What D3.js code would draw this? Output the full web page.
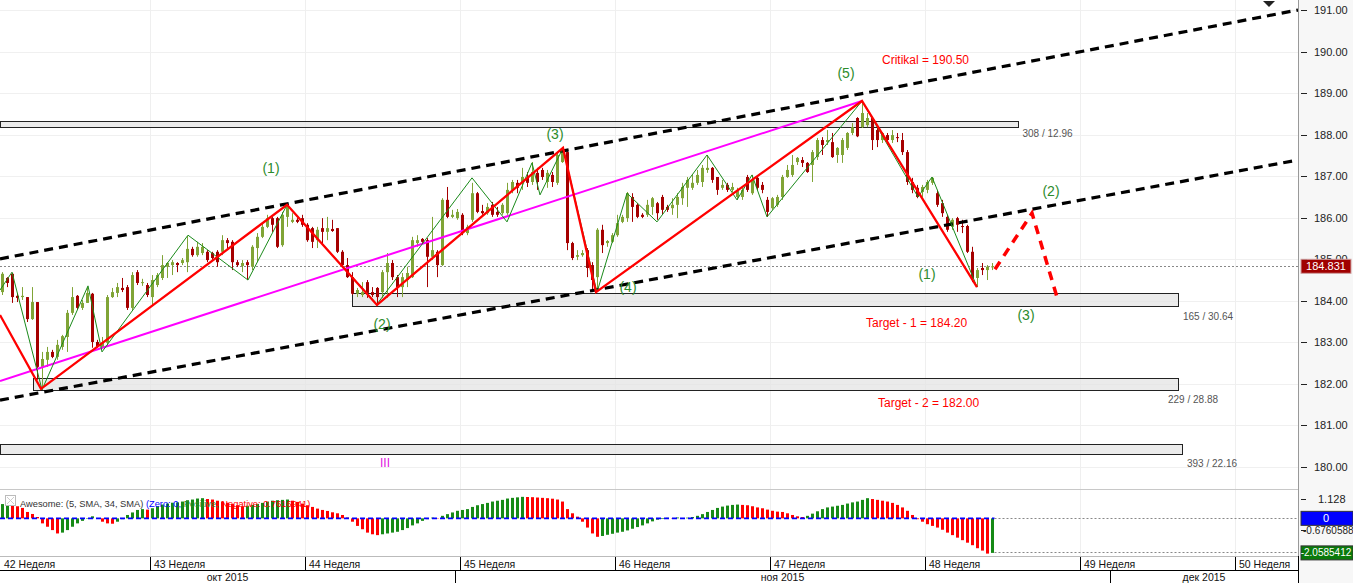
<!DOCTYPE html>
<html><head><meta charset="utf-8">
<script src="https://cdn.jsdelivr.net/npm/d3@7"></script>
<style>
body{margin:0;background:#fff;}
svg{display:block;font-family:"Liberation Sans",Arial,sans-serif;}
</style></head>
<body><svg id="c" width="1353" height="583"></svg>
<script>
// ---------- DATA ----------
// 4h candles [open, high, low, close]
const candles = [
[184.21,184.69,184.14,184.65],[184.55,184.57,184.33,184.43],[184.65,184.67,183.95,184.09],[184.12,184.19,183.97,184.07],
[184.09,184.33,184.02,184.12],[184.09,184.09,183.49,183.56],[183.56,184.33,183.54,183.97],[183.97,183.97,182.10,182.41],
[182.41,182.77,181.86,182.60],[182.58,182.89,182.41,182.77],[182.77,182.82,182.62,182.65],[182.65,183.06,182.58,182.94],
[182.89,183.18,182.82,183.15],[183.13,183.78,182.77,183.71],[183.71,184.33,183.66,184.09],[184.12,184.14,183.78,183.83],
[183.83,184.02,183.78,183.95],[183.95,184.33,183.95,184.19],[184.17,184.19,182.87,183.01],[183.01,183.06,182.87,182.89],
[182.89,183.13,182.87,182.99],[182.99,184.14,182.89,184.09],[184.09,184.31,184.07,184.21],[184.19,184.43,184.09,184.33],
[184.31,184.55,184.21,184.26],[184.33,184.38,183.78,183.83],[183.83,184.69,183.78,184.62],[184.69,184.74,184.38,184.43],
[184.43,184.53,184.36,184.45],[184.38,184.43,184.09,184.14],[184.09,184.62,183.90,184.50],[184.38,184.67,184.33,184.62],
[184.55,185.10,184.50,184.86],[184.82,184.93,184.55,184.91],[184.86,184.98,184.62,184.93],[184.91,184.93,184.69,184.86],
[184.91,185.03,184.86,184.98],[184.93,185.56,184.69,185.25],[185.25,185.30,185.06,185.10],[185.10,185.42,185.06,185.30],
[185.15,185.39,185.10,185.30],[185.18,185.22,184.93,184.98],[185.15,185.18,184.98,185.03],[185.18,185.22,184.82,184.93],
[185.18,185.58,185.10,185.46],[185.46,185.51,185.27,185.39],[185.42,185.46,184.74,184.93],[184.93,184.98,184.82,184.86],
[184.84,184.98,184.69,184.91],[184.93,184.98,184.50,184.86],[184.82,185.34,184.74,185.30],[185.27,185.63,184.93,185.54],
[185.54,185.87,185.51,185.78],[185.78,186.07,185.75,185.99],[185.99,186.02,185.66,185.83],[185.99,186.02,185.27,185.30],
[185.34,186.14,185.30,186.07],[186.02,186.31,185.78,186.26],[185.90,186.11,185.87,185.95],[185.95,185.99,185.87,185.90],
[185.99,186.07,185.78,185.83],[185.83,185.87,185.42,185.46],[185.75,185.78,185.27,185.42],[185.46,185.78,185.27,185.71],
[185.75,185.99,185.39,185.66],[185.66,186.02,185.46,185.75],[185.73,185.95,185.66,185.68],[185.75,185.75,185.15,185.18],
[185.18,185.22,184.82,184.86],[184.86,185.03,184.55,184.57],[184.57,184.69,184.14,184.17],[184.17,184.31,184.09,184.26],
[184.14,184.45,184.09,184.21],[184.45,184.50,184.07,184.19],[184.21,184.33,184.09,184.14],[184.31,184.33,183.90,184.09],
[184.21,184.74,184.07,184.69],[184.69,185.15,184.07,184.91],[184.91,184.98,184.50,184.57],[184.57,184.62,184.09,184.33],
[184.33,184.67,184.09,184.57],[184.50,184.82,184.33,184.67],[184.57,185.54,184.55,185.46],[185.39,185.58,185.30,185.46],
[185.49,185.51,185.39,185.42],[185.46,185.51,184.33,185.06],[185.06,186.02,184.98,185.22],[185.18,185.22,184.57,184.86],
[184.86,186.47,184.84,186.43],[186.43,186.74,185.99,186.02],[186.02,186.19,185.99,186.07],[185.99,186.21,185.95,186.14],
[186.07,186.11,185.58,185.63],[185.63,185.83,185.58,185.78],[185.95,186.84,185.90,186.59],[186.59,186.62,186.11,186.14],
[186.16,186.31,186.07,186.11],[186.11,186.35,186.07,186.26],[186.31,186.38,186.02,186.07],[186.14,186.26,186.02,186.07],
[186.11,186.35,186.07,186.31],[186.11,186.84,186.07,186.67],[186.67,186.91,186.59,186.86],[186.84,186.91,186.59,186.72],
[186.84,187.20,186.67,186.98],[186.96,187.10,186.74,186.84],[186.86,187.34,186.79,187.10],[187.08,187.20,186.67,186.86],
[187.15,187.20,186.91,186.98],[186.86,187.15,186.72,187.08],[187.03,187.10,186.74,186.86],[186.84,187.56,186.79,187.51],
[187.34,187.70,187.32,187.58],[187.58,187.63,185.22,185.39],[185.39,185.42,184.98,185.03],[185.06,185.22,184.98,185.10],
[185.10,185.22,185.06,185.15],[185.22,185.27,184.57,184.79],[184.86,184.93,184.21,184.50],[184.57,185.75,184.26,185.71],
[185.71,185.83,185.15,185.34],[185.39,185.46,185.30,185.44],[185.42,185.63,185.39,185.58],[185.58,186.07,185.54,185.87],
[185.90,186.07,185.87,186.02],[185.99,186.62,185.90,186.59],[186.50,186.59,185.90,186.26],[186.31,186.35,185.99,186.02],
[186.07,186.11,185.99,186.02],[186.07,186.43,186.02,186.31],[186.26,186.50,186.07,186.47],[186.35,186.38,185.95,186.11],
[186.50,186.55,186.07,186.19],[186.26,186.31,186.14,186.19],[186.23,186.47,186.07,186.31],[186.31,186.59,185.99,186.50],
[186.47,186.84,186.31,186.74],[186.72,186.98,186.26,186.91],[186.72,187.03,186.67,186.84],[186.84,187.15,186.79,187.03],
[186.86,187.27,186.74,187.20],[187.15,187.51,187.08,187.20],[187.20,187.22,186.84,186.91],[186.98,186.98,186.55,186.67],
[186.72,186.91,186.67,186.79],[186.79,186.84,186.62,186.67],[186.67,186.84,186.62,186.74],[186.50,186.72,186.43,186.67],
[186.50,186.72,186.43,186.67],[186.98,187.03,186.62,186.67],[186.59,187.03,186.55,186.91],[186.96,186.98,186.67,186.72],
[186.79,186.86,186.59,186.67],[186.43,186.50,186.02,186.14],[186.23,186.50,186.19,186.47],[186.31,186.55,186.26,186.50],
[186.50,187.03,186.43,186.98],[186.98,187.27,186.96,187.15],[187.03,187.51,186.98,187.27],[187.34,187.46,187.27,187.44],
[187.39,187.46,187.22,187.32],[187.32,187.34,187.08,187.10],[187.27,187.63,186.86,187.58],[187.46,187.92,187.39,187.87],
[187.87,187.94,187.51,187.75],[187.82,188.11,187.75,187.87],[187.82,188.04,187.44,187.46],[187.51,187.70,187.32,187.68],
[187.51,187.92,187.32,187.87],[187.68,188.06,187.63,188.04],[188.04,188.28,187.99,188.18],[188.40,188.42,187.94,187.96],
[188.18,188.81,188.16,188.52],[188.23,188.52,188.18,188.40],[188.40,188.40,187.63,187.87],[188.11,188.16,187.70,187.87],
[187.87,188.06,187.80,188.04],[187.99,188.04,187.75,187.87],[187.87,188.11,187.80,187.99],[187.94,188.04,187.82,187.92],
[187.87,188.04,187.51,187.58],[187.58,187.63,186.79,186.86],[186.86,186.96,186.59,186.67],[186.72,186.79,186.47,186.50],
[186.62,186.79,186.50,186.74],[186.67,186.91,186.59,186.86],[186.84,186.98,186.79,186.96],[186.59,186.67,186.26,186.31],
[186.35,186.43,186.02,186.11],[186.02,186.07,185.66,185.71],[185.78,185.99,185.71,185.95],[185.99,186.02,185.66,185.83],
[185.80,185.95,185.63,185.78],[185.80,185.83,185.15,185.18],[185.18,185.30,184.45,184.55],[184.55,184.79,184.33,184.74],
[184.79,184.91,184.62,184.74],[184.74,184.86,184.50,184.82],[184.82,184.91,184.74,184.83]
];
// Awesome Oscillator values per candle
const aoValues = [
0.85,0.92,0.75,0.72,0.62,0.38,0.26,0.08,-0.30,-0.50,
-0.70,-0.90,-0.85,-0.70,-0.50,-0.30,-0.15,-0.03,0.12,0.02,
-0.20,-0.30,-0.32,-0.20,-0.05,0.20,0.35,0.50,0.55,0.52,
0.60,0.72,0.82,0.88,0.93,0.95,1.00,1.08,1.12,1.18,
1.20,1.15,1.12,1.05,1.00,0.93,0.85,0.78,0.72,0.75,
0.80,0.86,0.92,1.00,1.05,1.08,1.10,1.12,1.05,0.98,
0.88,0.78,0.68,0.58,0.50,0.44,0.36,0.30,0.20,0.05,
-0.20,-0.45,-0.65,-0.85,-0.95,-1.00,-0.95,-0.90,-0.85,-0.80,
-0.70,-0.58,-0.42,-0.30,-0.15,-0.05,0.04,0.02,0.15,0.25,
0.35,0.45,0.50,0.55,0.68,0.78,0.85,0.92,1.00,1.05,
1.10,1.18,1.22,1.25,1.28,1.27,1.26,1.24,1.22,1.20,
1.17,1.12,1.00,0.55,0.30,0.10,-0.20,-0.55,-0.90,-1.10,
-1.05,-0.98,-0.92,-0.85,-0.80,-0.72,-0.62,-0.52,-0.42,-0.30,
-0.18,-0.08,-0.04,0.03,0.02,0.05,0.02,0.04,0.08,0.15,
0.25,0.38,0.50,0.62,0.70,0.76,0.80,0.82,0.80,0.78,
0.72,0.65,0.60,0.52,0.45,0.40,0.38,0.30,0.20,0.12,
0.08,0.15,0.28,0.42,0.55,0.65,0.70,0.75,0.80,0.88,
0.95,1.00,1.10,1.20,1.15,1.10,1.05,1.00,0.92,0.80,
0.65,0.45,0.20,-0.05,-0.20,-0.35,-0.45,-0.55,-0.68,-0.85,
-1.00,-1.15,-1.30,-1.45,-1.60,-1.78,-1.92,-2.10,-2.0585412
];
const priceTicks = [191,190,189,188,187,186,185,184,183,182,181,180];
const lastPrice = 184.831;
const aoTickLabels = [["1.128",1.128],["-0.6760588",-0.6760588]];
const aoZero = 0, aoLast = -2.0585412;
const weekLabels = ["42 Неделя","43 Неделя","44 Неделя","45 Неделя","46 Неделя","47 Неделя","48 Неделя","49 Неделя","50 Неделя"];
const weekStarts = [-1,30,61,92,123,154,185,216,247];
const monthLabels = ["окт 2015","ноя 2015","дек 2015"];
const monthStarts = [-1,91,222];
// drawn objects, [bar index, price]
const channelUpper = [[-0.5,185.01],[259.1,191.00]];
const channelLower = [[-0.5,181.61],[259.1,187.39]];
const magentaLine = [[-0.5,182.07],[171.9,188.81]];
const redWaves = [[-0.5,183.66],[7.7,181.88],[56.9,186.31],[74.9,183.90],[112.1,187.68],[118.7,184.21],[171.9,188.81],[194.9,184.33]];
const greenWaves = [[-0.5,184.26],[1.9,184.69],[7.9,181.86],[17.1,184.36],[19.9,182.77],[37.1,185.58],[49.1,184.50],[56.9,186.31],
  [74.9,183.92],[93.9,186.96],[100.9,185.90],[105.9,187.32],[107.5,186.55],[112.1,187.68],[118.9,184.21],[124.9,186.59],
  [130.9,185.90],[140.9,187.51],[146.9,186.43],[149.9,187.03],[152.9,186.02],[171.9,188.81],[183.1,186.50],[185.9,186.98],[194.9,184.33]];
const forecast = [[198.5,184.76],[205.9,186.11],[210.9,184.09]];
// zones: [startIndex, endIndex, top, bottom, label, labelIndex, labelPrice]
const zones = [
  [-0.5,203.1,188.33,188.18,"308 / 12.96",204.0,188.03],
  [69.9,235.1,184.19,183.88,"165 / 30.64",236.1,183.63],
  [6.1,235.1,182.14,181.85,"229 / 28.88",233.1,181.63],
  [-0.5,235.9,180.56,180.31,"393 / 22.16",236.9,180.09]
];
const waveLabels = [["(1)",53.7,187.20],["(2)",75.9,183.44],["(3)",110.5,188.01],["(4)",125.1,184.33],["(5)",168.7,189.48],
  ["(1)",184.9,184.65],["(2)",209.7,186.64],["(3)",204.7,183.66]];
const redNotes = [["Critikal = 190.50",175.9,189.80],["Target - 1 = 184.20",172.7,183.47],["Target - 2 = 182.00",175.1,181.54]];
const magentaNote = ["III",76.5,180.10];

// ---------- CHART ----------
const W = 1353, H = 583, plotR = 1298;
const svg = d3.select("#c");
const xS = d3.scaleLinear().domain([0,259]).range([2.5,1297.5]);
const yS = d3.scaleLinear().domain([180,191]).range([467,10]);
const aS = d3.scaleLinear().domain([aoLast,1.128]).range([552.9,499.4]);

svg.append("rect").attr("width",W).attr("height",H).attr("fill","#fff");
svg.append("rect").attr("x",plotR+1).attr("y",0).attr("width",W-plotR-1).attr("height",H).attr("fill","#f7f7f7");
svg.append("line").attr("x1",plotR+0.5).attr("x2",plotR+0.5).attr("y1",0).attr("y2",H).attr("stroke","#999");

const defs = svg.append("defs");
defs.append("clipPath").attr("id","pc").append("rect").attr("x",0).attr("y",0).attr("width",plotR).attr("height",489);
defs.append("clipPath").attr("id","ac").append("rect").attr("x",0).attr("y",490).attr("width",plotR).attr("height",66);

// grid
const grid = svg.append("g");
grid.selectAll("line.h").data(priceTicks).join("line")
  .attr("x1",0).attr("x2",plotR).attr("y1",d=>Math.round(yS(d))+0.5).attr("y2",d=>Math.round(yS(d))+0.5)
  .attr("stroke","#f0f0f0");
grid.selectAll("line.v").data(weekStarts.slice(1)).join("line")
  .attr("x1",d=>xS(d)-2.5+0.5).attr("x2",d=>xS(d)-2.5+0.5).attr("y1",0).attr("y2",556)
  .attr("stroke","#efefef");

svg.append("line").attr("x1",0).attr("x2",plotR).attr("y1",489.5).attr("y2",489.5).attr("stroke","#c8c8c8");

const pg = svg.append("g").attr("clip-path","url(#pc)");

pg.selectAll("rect.zone").data(zones).join("rect")
  .attr("x",d=>xS(d[0])+0.5).attr("width",d=>xS(d[1])-xS(d[0]))
  .attr("y",d=>Math.round(yS(d[2]))+0.5).attr("height",d=>Math.round(yS(d[3]))-Math.round(yS(d[2])))
  .attr("fill","#e4e4e4").attr("fill-opacity",0.75).attr("stroke","#222").attr("stroke-width",1);

pg.append("line").attr("x1",0).attr("x2",plotR).attr("y1",Math.round(yS(lastPrice))+0.5).attr("y2",Math.round(yS(lastPrice))+0.5)
  .attr("stroke","#888").attr("stroke-dasharray","2,2");

const line = d3.line().x(d=>xS(d[0])).y(d=>yS(d[1]));

const cg = pg.append("g");
candles.forEach((c,i)=>{
  const [o,h,l,cl] = c;
  const col = cl>=o ? "#80a436" : "#a50000";
  const x = xS(i);
  cg.append("line").attr("x1",x).attr("x2",x).attr("y1",yS(h)).attr("y2",yS(l)).attr("stroke",col).attr("stroke-width",1);
  const top = yS(Math.max(o,cl)), bot = yS(Math.min(o,cl));
  cg.append("rect").attr("x",x-1.5).attr("width",3).attr("y",top).attr("height",Math.max(1,bot-top)).attr("fill",col);
});

pg.append("path").attr("d",line(magentaLine)).attr("stroke","#ff00ff").attr("stroke-width",2).attr("fill","none");
[channelUpper,channelLower].forEach(L=>{
  pg.append("path").attr("d",line(L)).attr("stroke","#000").attr("stroke-width",3.2).attr("stroke-dasharray","9,6").attr("fill","none");
});
pg.append("path").attr("d",line(greenWaves)).attr("stroke","#1a8a1a").attr("stroke-width",1).attr("fill","none");
pg.append("path").attr("d",line(redWaves)).attr("stroke","#ff0000").attr("stroke-width",2.3).attr("fill","none");
pg.append("path").attr("d",line(forecast)).attr("stroke","#ff0000").attr("stroke-width",3.5).attr("stroke-dasharray","9,7").attr("fill","none");

pg.selectAll("text.zl").data(zones).join("text")
  .attr("x",d=>xS(d[5])).attr("y",d=>yS(d[6])).attr("dy","0.35em")
  .attr("font-size",10).attr("fill","#555").text(d=>d[4]);
pg.selectAll("text.wl").data(waveLabels).join("text")
  .attr("x",d=>xS(d[1])).attr("y",d=>yS(d[2])).attr("dy","0.35em").attr("text-anchor","middle")
  .attr("font-size",14).attr("fill","#2c8c2c").text(d=>d[0]);
pg.selectAll("text.rn").data(redNotes).join("text")
  .attr("x",d=>xS(d[1])).attr("y",d=>yS(d[2])).attr("dy","0.35em")
  .attr("font-size",12).attr("fill","#ff0000").text(d=>d[0]);
pg.append("text").attr("x",xS(magentaNote[1])).attr("y",yS(magentaNote[2])).attr("dy","0.35em").attr("text-anchor","middle")
  .attr("font-size",12).attr("fill","#e020e0").text(magentaNote[0]);

svg.append("path").attr("d","M1263,1 L1275,1 L1269,7 Z").attr("fill","#222");

// right price axis
const ax = svg.append("g");
priceTicks.forEach(p=>{
  const y = Math.round(yS(p))+0.5;
  ax.append("line").attr("x1",plotR+3).attr("x2",plotR+9).attr("y1",y).attr("y2",y).attr("stroke","#222");
  ax.append("text").attr("x",plotR+16).attr("y",y).attr("dy","0.35em").attr("font-size",11).attr("fill","#222").text(d3.format(".2f")(p));
});
const lpY = yS(lastPrice);
ax.append("rect").attr("x",plotR+3).attr("y",lpY-7).attr("width",50).attr("height",14).attr("fill","#a00000").attr("stroke","#d0a0a0");
ax.append("text").attr("x",plotR+28).attr("y",lpY).attr("dy","0.35em").attr("text-anchor","middle").attr("font-size",11).attr("fill","#fff").text(lastPrice.toFixed(3));

// ---------- AO panel ----------
const ag = svg.append("g").attr("clip-path","url(#ac)");
const z = aS(aoZero);
ag.selectAll("rect.ao").data(aoValues).join("rect")
  .attr("x",(d,i)=>xS(i)-1.5).attr("width",3)
  .attr("y",d=>Math.min(aS(d),z)).attr("height",d=>Math.abs(aS(d)-z))
  .attr("fill",(d,i)=> (i===0 || d>=aoValues[i-1]) ? "#168a16" : "#ff0000");
const lastX = xS(aoValues.length-1)+2;
ag.append("line").attr("x1",0).attr("x2",lastX).attr("y1",z).attr("y2",z).attr("stroke","#0000ff").attr("stroke-width",1.6).attr("stroke-dasharray","5,3");
ag.append("line").attr("x1",lastX).attr("x2",plotR).attr("y1",Math.round(z)+0.5).attr("y2",Math.round(z)+0.5).attr("stroke","#888").attr("stroke-dasharray","2,2");
ag.append("line").attr("x1",lastX).attr("x2",plotR).attr("y1",Math.round(aS(aoLast))-0.5).attr("y2",Math.round(aS(aoLast))-0.5).attr("stroke","#888").attr("stroke-dasharray","2,2");

// legend
svg.append("rect").attr("x",5.5).attr("y",495.5).attr("width",10).attr("height",10).attr("fill","#fff").attr("stroke","#bbb");
svg.append("path").attr("d","M7,497 L14,504 M14,497 L7,504").attr("stroke","#ccc");
const lg = svg.append("text").attr("x",20).attr("y",507).attr("font-size",9.3);
lg.append("tspan").attr("fill","#333").text("Awesome: (5, SMA, 34, SMA) ");
lg.append("tspan").attr("fill","#0000ff").text("(Zero: 0, ");
lg.append("tspan").attr("fill","#2a8a2a").text("Positive, ");
lg.append("tspan").attr("fill","#ff0000").text("Negative: 0.7616941)");

// AO axis
aoTickLabels.forEach(([t,v])=>{
  const y = Math.round(aS(v))+0.5;
  ax.append("line").attr("x1",plotR+3).attr("x2",plotR+8).attr("y1",y).attr("y2",y).attr("stroke","#222");
  const long = t.length>6;
  ax.append("text").attr("x", long ? plotR+5 : plotR+20).attr("y",y).attr("dy","0.35em")
    .attr("font-size",long ? 10 : 11).attr("fill","#222").text(t);
});
ax.append("rect").attr("x",plotR+3).attr("y",z-7).attr("width",52).attr("height",14).attr("fill","#0000ff").attr("stroke","#333");
ax.append("text").attr("x",plotR+28).attr("y",z).attr("dy","0.35em").attr("text-anchor","middle").attr("font-size",11).attr("fill","#fff").text("0");
const alY = aS(aoLast);
ax.append("rect").attr("x",plotR+3).attr("y",alY-7).attr("width",52).attr("height",14).attr("fill","#0a7a0a").attr("stroke","#333");
ax.append("text").attr("x",plotR+28).attr("y",alY).attr("dy","0.35em").attr("text-anchor","middle").attr("font-size",10).attr("fill","#fff").text(String(aoLast));

// ---------- time axis ----------
const tg = svg.append("g");
tg.append("rect").attr("x",0).attr("y",556).attr("width",plotR).attr("height",27).attr("fill","#fff");
tg.append("line").attr("x1",0).attr("x2",plotR).attr("y1",556.5).attr("y2",556.5).attr("stroke","#bbb");
tg.append("line").attr("x1",0).attr("x2",plotR+1).attr("y1",570.5).attr("y2",570.5).attr("stroke","#000");
weekStarts.forEach((s,k)=>{
  const x = Math.max(0, xS(s)-2.5);
  if (k>0) tg.append("line").attr("x1",x+0.5).attr("x2",x+0.5).attr("y1",557).attr("y2",570).attr("stroke","#000");
  tg.append("text").attr("x",x+4).attr("y",564).attr("dy","0.35em").attr("font-size",10.5).attr("fill","#111").text(weekLabels[k]);
});
monthStarts.forEach((s,k)=>{
  const x0 = Math.max(0, xS(s)-2.5);
  const x1 = k<monthStarts.length-1 ? xS(monthStarts[k+1])-2.5 : plotR;
  if (k>0) tg.append("line").attr("x1",x0+0.5).attr("x2",x0+0.5).attr("y1",571).attr("y2",583).attr("stroke","#000");
  tg.append("text").attr("x",(x0+x1)/2).attr("y",577).attr("dy","0.35em").attr("text-anchor","middle").attr("font-size",10.5).attr("fill","#111").text(monthLabels[k]);
});
tg.append("line").attr("x1",plotR+0.5).attr("x2",plotR+0.5).attr("y1",556).attr("y2",583).attr("stroke","#000");
</script>
</body></html>
